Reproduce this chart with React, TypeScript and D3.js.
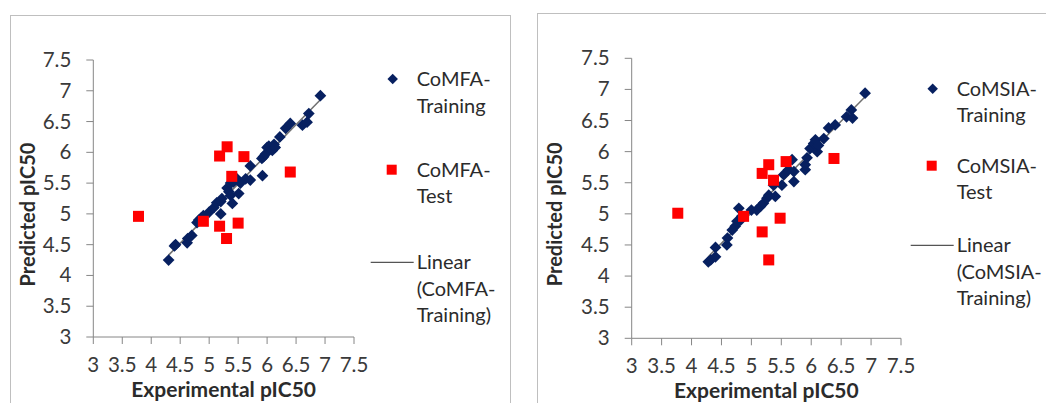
import React from "react";
import * as d3 from "d3";

// CoMFA panel: [experimental, predicted]
const comfaTraining: [number, number][] = [
  [4.3, 4.25], [4.4, 4.48], [4.42, 4.5], [4.62, 4.53], [4.63, 4.6], [4.7, 4.65],
  [4.79, 4.86], [4.82, 4.9], [4.86, 4.93], [4.9, 4.97], [5.0, 5.03], [5.08, 5.1],
  [5.13, 5.18], [5.2, 5.0], [5.2, 5.2], [5.22, 5.25], [5.31, 5.42], [5.34, 5.36],
  [5.37, 5.3], [5.4, 5.17], [5.37, 5.5], [5.42, 5.52], [5.48, 5.57], [5.51, 5.33],
  [5.54, 5.5], [5.63, 5.57], [5.71, 5.55], [5.71, 5.78], [5.92, 5.62], [5.91, 5.9],
  [5.94, 5.93], [5.97, 5.97], [6.0, 6.08], [6.03, 6.1], [6.09, 6.03], [6.12, 6.13],
  [6.14, 6.08], [6.22, 6.25], [6.32, 6.39], [6.4, 6.47], [6.61, 6.44], [6.69, 6.49],
  [6.72, 6.63], [6.92, 6.92],
];
const comfaTest: [number, number][] = [
  [3.78, 4.96], [4.9, 4.88], [5.18, 5.94], [5.31, 6.09], [5.6, 5.93],
  [5.39, 5.61], [5.18, 4.8], [5.3, 4.6], [5.5, 4.85], [6.4, 5.68],
];

// CoMSIA panel
const comsiaTraining: [number, number][] = [
  [4.28, 4.23], [4.32, 4.26], [4.4, 4.46], [4.4, 4.31], [4.59, 4.5], [4.6, 4.61],
  [4.68, 4.74], [4.73, 4.8], [4.79, 5.09], [4.76, 4.88], [4.82, 4.9], [4.84, 4.96],
  [5.0, 5.06], [5.09, 5.06], [5.15, 5.12], [5.2, 5.17], [5.26, 5.25], [5.29, 5.3],
  [5.4, 5.28], [5.37, 5.46], [5.51, 5.46], [5.54, 5.63], [5.62, 5.71], [5.68, 5.87],
  [5.71, 5.68], [5.71, 5.52], [5.9, 5.71], [5.9, 5.79], [5.93, 5.9], [5.98, 6.05],
  [6.04, 6.13], [6.07, 6.19], [6.1, 6.0], [6.12, 6.1], [6.21, 6.21], [6.29, 6.38],
  [6.4, 6.43], [6.59, 6.56], [6.67, 6.67], [6.69, 6.54], [6.9, 6.94],
];
const comsiaTest: [number, number][] = [
  [3.77, 5.01], [4.87, 4.96], [5.18, 5.65], [5.29, 5.79], [5.37, 5.54],
  [5.58, 5.84], [5.18, 4.71], [5.48, 4.93], [5.29, 4.26], [6.38, 5.89],
];

const ticks = [3, 3.5, 4, 4.5, 5, 5.5, 6, 6.5, 7, 7.5];

const FONT = "Lato, 'Open Sans', sans-serif";
const NAVY = "#072060";
const RED = "#FF0000";
const INK = "#2b2b2b";

function fit(data: [number, number][]) {
  const mx = d3.mean(data, (d) => d[0])!;
  const my = d3.mean(data, (d) => d[1])!;
  const sxy = d3.sum(data, (d) => (d[0] - mx) * (d[1] - my));
  const sxx = d3.sum(data, (d) => (d[0] - mx) ** 2);
  const b = sxy / sxx;
  return { a: my - b * mx, b };
}

type PanelProps = {
  box: [number, number, number, number];
  x0: number; x1: number; y0: number; y1: number;
  yTitleX: number;
  training: [number, number][];
  test: [number, number][];
  name: string;
  legendX: number;
  legendY: [number, number, number];
};

function Panel({ box, x0, x1, y0, y1, yTitleX, training, test, name, legendX, legendY }: PanelProps) {
  const x = d3.scaleLinear().domain([3, 7.5]).range([x0, x1]);
  const y = d3.scaleLinear().domain([3, 7.5]).range([y0, y1]);
  const { a, b } = fit(training);
  const [xmin, xmax] = d3.extent(training, (d) => d[0]) as [number, number];
  const diamond = d3.symbol(d3.symbolDiamond2, 88)()!;
  const lh = 26.5;
  return (
    <g>
      <rect x={box[0] + 0.5} y={box[1] + 0.5} width={box[2]} height={box[3]} fill="white" stroke="#BFBFBF" />
      {/* axes */}
      <line x1={x0} x2={x1} y1={y0} y2={y0} stroke="#868686" />
      <line x1={x0} x2={x0} y1={y0} y2={y1} stroke="#868686" />
      {ticks.map((t) => (
        <g key={"y" + t}>
          <line x1={x0 - 7} x2={x0} y1={y(t)} y2={y(t)} stroke="#868686" />
          <text x={x0 - 22} y={y(t) + 7} textAnchor="end" fontSize={20.5} fill="#3a3a3a" fontFamily={FONT}>
            {t}
          </text>
        </g>
      ))}
      {ticks.map((t) => (
        <g key={"x" + t}>
          <line x1={x(t)} x2={x(t)} y1={y0} y2={y0 + 7} stroke="#868686" />
          <text x={x(t)} y={y0 + 35} textAnchor="middle" fontSize={20.5} fill="#3a3a3a" fontFamily={FONT}>
            {t}
          </text>
        </g>
      ))}
      <text x={(x0 + x1) / 2} y={y0 + 60} textAnchor="middle" fontSize={21} fontWeight="bold" fill={INK} fontFamily={FONT}>
        Experimental pIC50
      </text>
      <text
        transform={`translate(${yTitleX},${(y0 + y1) / 2 + 16}) rotate(-90)`}
        textAnchor="middle"
        dy="0.35em"
        fontSize={20}
        fontWeight="bold"
        fill={INK}
        fontFamily={FONT}
      >
        Predicted pIC50
      </text>
      {/* trendline */}
      <line x1={x(xmin)} x2={x(xmax)} y1={y(a + b * xmin)} y2={y(a + b * xmax)} stroke="#707070" strokeWidth={1.5} />
      {training.map((d, i) => (
        <path key={"tr" + i} d={diamond} transform={`translate(${x(d[0])},${y(d[1])})`} fill={NAVY} />
      ))}
      {test.map((d, i) => (
        <rect key={"te" + i} x={x(d[0]) - 5.5} y={y(d[1]) - 5.5} width={11} height={11} fill={RED} />
      ))}
      {/* legend */}
      <path d={d3.symbol(d3.symbolDiamond2, 70)()!} transform={`translate(${legendX - 24},${legendY[0] - 7})`} fill={NAVY} />
      <text fontSize={20} fill={INK} fontFamily={FONT}>
        <tspan x={legendX} y={legendY[0]}>{name}-</tspan>
        <tspan x={legendX} y={legendY[0] + lh}>Training</tspan>
      </text>
      <rect x={legendX - 30} y={legendY[1] - 12} width={10} height={10} fill={RED} />
      <text fontSize={20} fill={INK} fontFamily={FONT}>
        <tspan x={legendX} y={legendY[1]}>{name}-</tspan>
        <tspan x={legendX} y={legendY[1] + lh}>Test</tspan>
      </text>
      <line x1={legendX - 46} x2={legendX - 3} y1={legendY[2] - 7} y2={legendY[2] - 7} stroke={INK} strokeWidth={1} />
      <text fontSize={20} fill={INK} fontFamily={FONT}>
        <tspan x={legendX} y={legendY[2]}>Linear</tspan>
        <tspan x={legendX} y={legendY[2] + lh}>({name}-</tspan>
        <tspan x={legendX} y={legendY[2] + 2 * lh}>Training)</tspan>
      </text>
    </g>
  );
}

export default function App() {
  return (
    <svg width={1046} height={403} style={{ position: "absolute", left: 0, top: 0, background: "white" }}>
      <Panel
        box={[10, 15, 500, 400]}
        x0={93.3} x1={354} y0={337} y1={60}
        yTitleX={28}
        training={comfaTraining}
        test={comfaTest}
        name="CoMFA"
        legendX={416.7}
        legendY={[86, 176.7, 269.3]}
      />
      <Panel
        box={[537, 13, 520, 400]}
        x0={631.7} x1={901} y0={338.3} y1={58.3}
        yTitleX={555}
        training={comsiaTraining}
        test={comsiaTest}
        name="CoMSIA"
        legendX={956.7}
        legendY={[95.7, 172.7, 252.3]}
      />
    </svg>
  );
}
